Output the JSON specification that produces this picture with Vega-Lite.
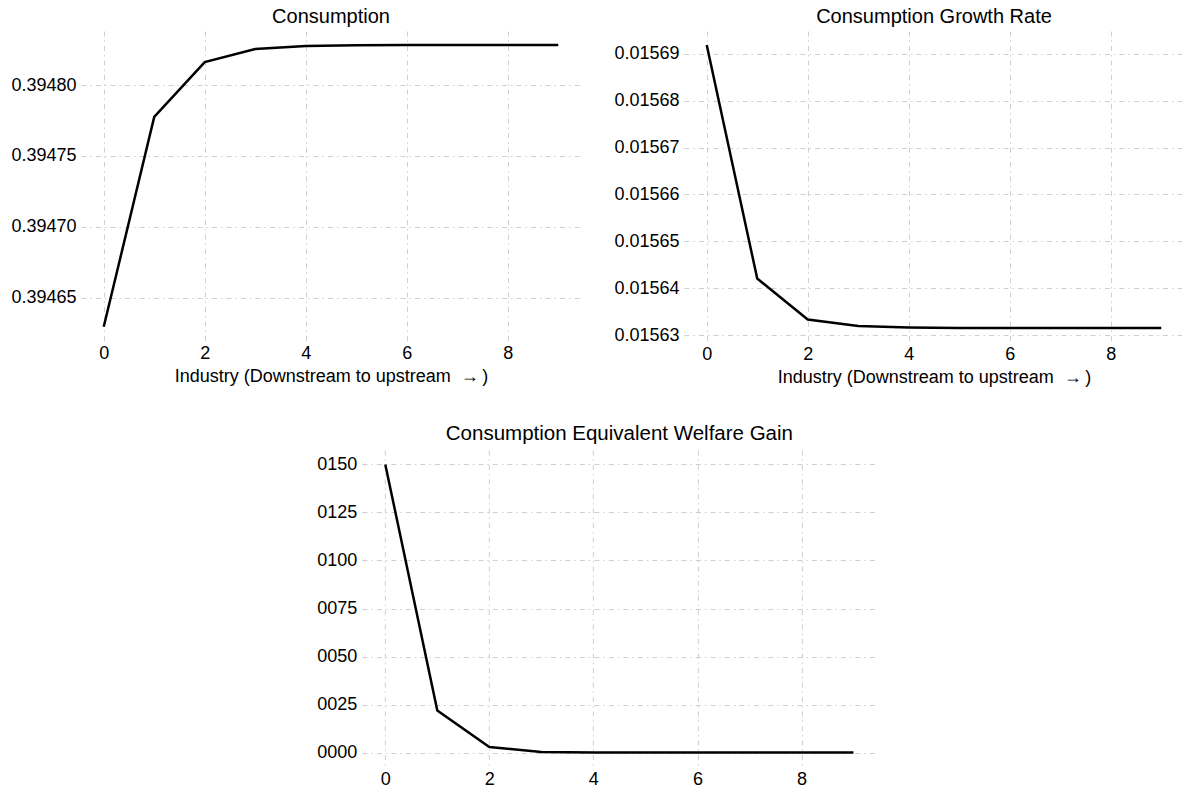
{
  "$schema": "https://vega.github.io/schema/vega-lite/v6.json",
  "padding": {"left": 10, "top": 6, "right": 0, "bottom": 0},
  "background": "white",
  "datasets": {
    "consumption": [
      {"industry": 0, "value": 0.3946296},
      {"industry": 1, "value": 0.3947775},
      {"industry": 2, "value": 0.3948162},
      {"industry": 3, "value": 0.3948254},
      {"industry": 4, "value": 0.3948275},
      {"industry": 5, "value": 0.3948281},
      {"industry": 6, "value": 0.3948282},
      {"industry": 7, "value": 0.3948282},
      {"industry": 8, "value": 0.3948282},
      {"industry": 9, "value": 0.3948282}
    ],
    "growth": [
      {"industry": 0, "value": 0.0156918},
      {"industry": 1, "value": 0.0156421},
      {"industry": 2, "value": 0.0156334},
      {"industry": 3, "value": 0.015632},
      {"industry": 4, "value": 0.0156317},
      {"industry": 5, "value": 0.0156316},
      {"industry": 6, "value": 0.0156316},
      {"industry": 7, "value": 0.0156316},
      {"industry": 8, "value": 0.0156316},
      {"industry": 9, "value": 0.0156316}
    ],
    "welfare": [
      {"industry": 0, "value": 0.15},
      {"industry": 1, "value": 0.02195},
      {"industry": 2, "value": 0.00294},
      {"industry": 3, "value": 0.00035},
      {"industry": 4, "value": 0.00004},
      {"industry": 5, "value": 0.000005},
      {"industry": 6, "value": 0},
      {"industry": 7, "value": 0},
      {"industry": 8, "value": 0},
      {"industry": 9, "value": 0}
    ]
  },
  "center": true,
  "spacing": 37,
  "vconcat": [
    {
      "spacing": 32,
      "hconcat": [
        {
          "title": "Consumption",
          "width": 500,
          "height": 310,
          "data": {"name": "consumption"},
          "mark": {"type": "line"},
          "encoding": {
            "x": {"field": "industry", "type": "quantitative",
                  "scale": {"domain": [-0.45, 9.45], "nice": false, "zero": false},
                  "axis": {"values": [0, 2, 4, 6, 8], "title": "Industry (Downstream to upstream\u00a0 →\u2009)", "labelAngle": 0}},
            "y": {"field": "value", "type": "quantitative",
                  "scale": {"domain": [0.3946196, 0.3948381], "nice": false, "zero": false},
                  "axis": {"values": [0.39465, 0.3947, 0.39475, 0.3948], "format": ".5f", "title": null}}
          }
        },
        {
          "title": "Consumption Growth Rate",
          "width": 500,
          "height": 311,
          "data": {"name": "growth"},
          "mark": {"type": "line"},
          "encoding": {
            "x": {"field": "industry", "type": "quantitative",
                  "scale": {"domain": [-0.45, 9.45], "nice": false, "zero": false},
                  "axis": {"values": [0, 2, 4, 6, 8], "title": "Industry (Downstream to upstream\u00a0 →\u2009)", "labelAngle": 0}},
            "y": {"field": "value", "type": "quantitative",
                  "scale": {"domain": [0.0156286, 0.0156948], "nice": false, "zero": false},
                  "axis": {"values": [0.01563, 0.01564, 0.01565, 0.01566, 0.01567, 0.01568, 0.01569], "format": ".5f", "title": null}}
          }
        }
      ]
    },
    {
      "title": {"text": "Consumption Equivalent Welfare Gain", "fontSize": 20.5, "offset": 6},
      "width": 515,
      "height": 317,
      "data": {"name": "welfare"},
      "encoding": {
        "x": {"field": "industry", "type": "quantitative",
              "scale": {"domain": [-0.45, 9.45], "nice": false, "zero": false},
              "axis": {"values": [0, 2, 4, 6, 8], "title": null, "labelAngle": 0}}
      },
      "layer": [
        {
          "mark": {"type": "line"},
          "encoding": {
            "y": {"field": "value", "type": "quantitative",
                  "scale": {"domain": [-0.0075, 0.1575], "nice": false, "zero": false},
                  "axis": {"values": [0, 0.025, 0.05, 0.075, 0.1, 0.125, 0.15],
                           "labelExpr": "replace(format(datum.value, '.3f'), '.', '')",
                           "title": null}}
          }
        },
        {
          "mark": {"type": "line", "opacity": 0},
          "encoding": {
            "y": {"field": "value", "type": "quantitative",
                  "scale": {"domain": [-0.0075, 0.1575], "nice": false, "zero": false},
                  "axis": {"orient": "right", "grid": false, "title": null,
                           "values": [0.15], "labelExpr": "'0000'",
                           "labelFontSize": 10, "labelPadding": 4, "labelColor": "#ffffff"}}
          }
        }
      ],
      "resolve": {"scale": {"y": "independent"}, "axis": {"y": "independent"}}
    }
  ],
  "config": {
    "font": "Liberation Sans",
    "view": {"stroke": null},
    "axis": {
      "domain": false,
      "ticks": false,
      "grid": true,
      "gridColor": "#cfcfcf",
      "gridDash": [5, 4, 1.5, 4],
      "gridWidth": 1,
      "labelFont": "Liberation Sans",
      "labelFontSize": 18,
      "labelColor": "#000000",
      "labelPadding": 5,
      "titleFont": "Liberation Sans",
      "titleFontSize": 18,
      "titleFontWeight": "normal",
      "titleColor": "#000000",
      "titlePadding": 5
    },
    "axisX": {"labelPadding": 3},
    "title": {
      "font": "Liberation Sans",
      "fontSize": 20,
      "fontWeight": "normal",
      "color": "#000000",
      "anchor": "middle",
      "frame": "group",
      "baseline": "alphabetic",
      "offset": 4.5
    },
    "line": {"color": "#000000", "strokeWidth": 2.5}
  }
}
